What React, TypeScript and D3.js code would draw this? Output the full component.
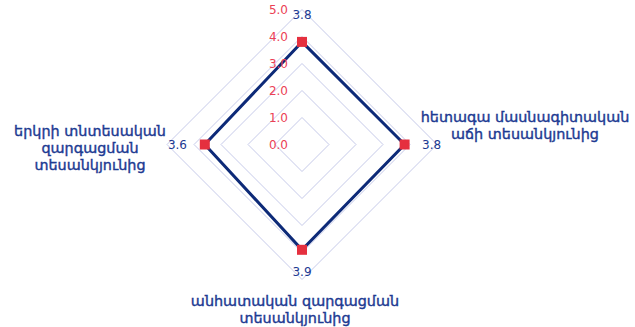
import React from "react";
import * as d3 from "d3";

const categories: string[][] = [
  [],
  ["հետագա մասնագիտական", "աճի տեսանկյունից"],
  ["անհատական զարգացման", "տեսանկյունից"],
  ["երկրի տնտեսական", "զարգացման", "տեսանկյունից"],
];
const values: number[] = [3.8, 3.8, 3.9, 3.6];
const ticks: number[] = [0, 1, 2, 3, 4, 5];
const maxValue = 5;

const W = 635;
const H = 327;
const cx = 302;
const cy = 144.5;
const R = 135;

export default function App() {
  const r = d3.scaleLinear().domain([0, maxValue]).range([0, R]);
  const angle = (i: number) => (i * 2 * Math.PI) / categories.length;
  const pt = (i: number, v: number): [number, number] => {
    const a = angle(i);
    return [cx + r(v) * Math.sin(a), cy - r(v) * Math.cos(a)];
  };
  const line = d3.line<[number, number]>().curve(d3.curveLinearClosed);
  const dataPts = values.map((v, i) => pt(i, v));

  const gridColor = "#c6cae9";
  const navy = "#0d2a78";
  const blue = "#1d3a92";
  const red = "#e5303f";
  const tickRed = "#eb4055";
  const font = "'DejaVu Sans', sans-serif";

  const valLabelPos = (i: number) => {
    const a = angle(i);
    const s = Math.round(Math.sin(a));
    const c = Math.round(Math.cos(a));
    if (c === 1) return { x: cx, y: cy - R + 9.5, anchor: "middle" };
    if (c === -1) return { x: cx, y: cy + R - 4, anchor: "middle" };
    if (s === 1) return { x: cx + R - 15, y: cy + 4.5, anchor: "start" };
    return { x: cx - R + 20, y: cy + 4.5, anchor: "end" };
  };

  const catLabelPos = [
    { x: cx, y: cy - R - 10 },
    { x: cx + 223, y: cy - 22.5 },
    { x: cx - 7, y: cy + 161 },
    { x: cx - 212, y: cy - 9 },
  ];

  return (
    <svg
      width={W}
      height={H}
      style={{ position: "absolute", left: 0, top: 0, background: "#fff" }}
    >
      <g>
        {ticks
          .filter((t) => t > 0)
          .map((t) => (
            <path
              key={t}
              d={line(categories.map((_, i) => pt(i, t))) || ""}
              fill="none"
              stroke={gridColor}
              strokeWidth={1}
            />
          ))}
      </g>
      <path
        d={line(dataPts) || ""}
        fill="none"
        stroke={navy}
        strokeWidth={3}
        strokeLinejoin="miter"
      />
      {dataPts.map(([x, y], i) => (
        <rect key={i} x={x - 5} y={y - 5} width={10} height={10} fill={red} />
      ))}
      {ticks.map((t) => (
        <text
          key={t}
          x={cx - 14}
          y={cy - r(t)}
          dy="0.35em"
          textAnchor="end"
          fontFamily={font}
          fontSize={12}
          fill={tickRed}
        >
          {d3.format(".1f")(t)}
        </text>
      ))}
      {values.map((v, i) => {
        const p = valLabelPos(i);
        return (
          <text
            key={i}
            x={p.x}
            y={p.y}
            textAnchor={p.anchor as any}
            fontFamily={font}
            fontSize={12}
            fill={blue}
          >
            {d3.format(".1f")(v)}
          </text>
        );
      })}
      {categories.map((lines, i) => (
        <text
          key={i}
          x={catLabelPos[i].x}
          y={catLabelPos[i].y}
          textAnchor="middle"
          fontFamily={font}
          fontSize={14.4}
          fill={blue}
          stroke={blue}
          strokeWidth={0.4}
        >
          {lines.map((l, j) => (
            <tspan key={j} x={catLabelPos[i].x} dy={j === 0 ? 0 : 17}>
              {l}
            </tspan>
          ))}
        </text>
      ))}
    </svg>
  );
}
